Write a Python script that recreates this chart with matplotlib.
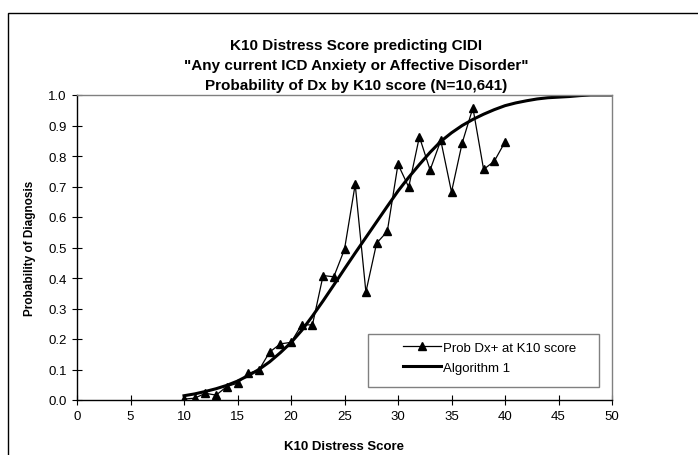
import matplotlib
matplotlib.use("Agg")
import matplotlib.pyplot as plt
from matplotlib.patches import Rectangle

plt.rcParams['font.family'] = ['Liberation Sans', 'DejaVu Sans']

# observed probability of diagnosis at each K10 score
k10_obs = list(range(10, 41))
prob_obs = [0.003, 0.006, 0.022, 0.016, 0.044, 0.055, 0.087, 0.098, 0.157, 0.184,
            0.189, 0.247, 0.246, 0.408, 0.404, 0.494, 0.707, 0.354, 0.514, 0.553,
            0.773, 0.698, 0.863, 0.754, 0.851, 0.682, 0.843, 0.958, 0.756, 0.783,
            0.846]

# fitted curve (Algorithm 1)
k10_fit = list(range(10, 51))
prob_fit = [0.014, 0.020, 0.028, 0.037, 0.048, 0.062, 0.080, 0.100, 0.125, 0.155,
            0.188, 0.228, 0.275, 0.325, 0.377, 0.430, 0.482, 0.533, 0.584, 0.635,
            0.685, 0.730, 0.772, 0.812, 0.848, 0.876, 0.900, 0.920, 0.937, 0.952,
            0.965, 0.974, 0.981, 0.987, 0.991, 0.993, 0.995, 0.998, 1.0, 1.0, 1.0]

title_lines = ['K10 Distress Score predicting CIDI',
               '"Any current ICD Anxiety or Affective Disorder"',
               'Probability of Dx by K10 score (N=10,641)']

W, H = 698, 456
fig = plt.figure(figsize=(W / 100, H / 100), dpi=100)

# outer chart frame (runs off the right and bottom edges)
fig.patches.append(Rectangle((8 / W, -0.1), 1.2, (H - 14) / H + 0.1,
                             transform=fig.transFigure, fill=False,
                             ec='k', lw=1.0))

ax = fig.add_axes([77 / W, 1 - 401 / H, (612 - 77) / W, (401 - 96) / H])

ax.plot(k10_obs, prob_obs, '-^', color='k', lw=0.9, ms=5.5,
        label='Prob Dx+ at K10 score')
ax.plot(k10_fit, prob_fit, '-', color='k', lw=2.2, label='Algorithm 1')

ax.set_xlim(0, 50)
ax.set_ylim(0, 1.0)
ax.set_xticks(range(0, 51, 5))
ax.set_yticks([i / 10 for i in range(11)])
ax.set_yticklabels(['%.1f' % (i / 10) for i in range(11)])
ax.tick_params(direction='inout', length=7, width=0.8, labelsize=9.5, pad=4)

for s in ['left', 'bottom']:
    ax.spines[s].set_color('k')
    ax.spines[s].set_linewidth(1.0)
for s in ['top', 'right']:
    ax.spines[s].set_color('#808080')
    ax.spines[s].set_linewidth(1.0)

ax.set_xlabel('K10 Distress Score', fontsize=9.5, fontweight='bold', labelpad=13)
ax.set_ylabel('Probability of Diagnosis', fontsize=8.5, fontweight='bold', labelpad=9)

for i, t in enumerate(title_lines):
    fig.text(356 / W, 1 - (46 + 20 * i) / H, t, ha='center', va='center',
             fontsize=11, fontweight='bold')

# legend box drawn separately, entries placed inside it
fig.patches.append(Rectangle((368 / W, 1 - 388 / H), (599 - 368) / W, (388 - 335) / H,
                             transform=fig.transFigure, fill=True, fc='w',
                             ec='#808080', lw=1.0, zorder=5))
leg = fig.legend(loc='upper left', bbox_to_anchor=(400 / W, 1 - 340 / H),
                 fontsize=9.5, frameon=False, handlelength=2.9, handletextpad=0.15,
                 borderaxespad=0, borderpad=0.2, labelspacing=0.6)
leg.set_zorder(6)

fig.savefig('out.png', dpi=100)
